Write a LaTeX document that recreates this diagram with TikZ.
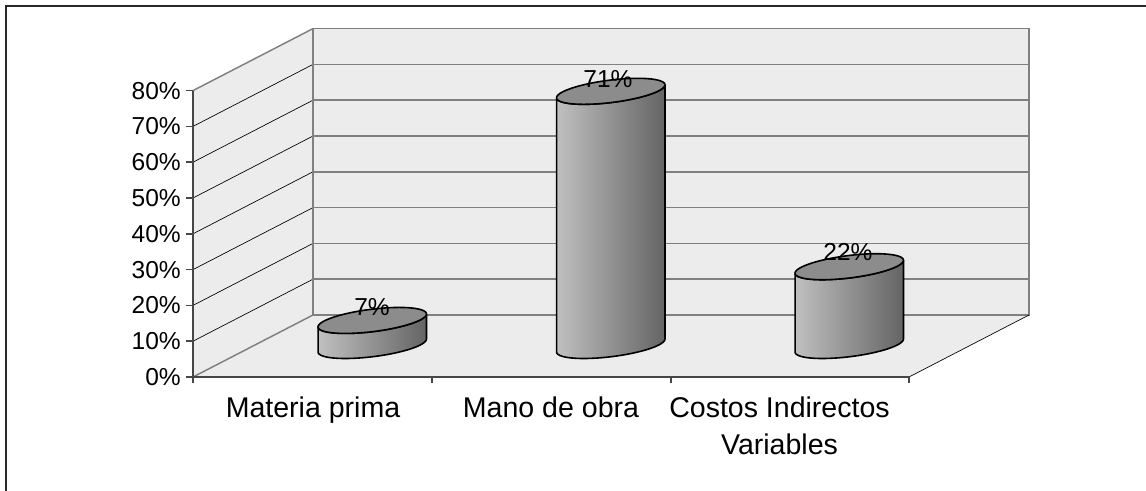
\documentclass[tikz,border=0pt]{standalone}
\usepackage{fontspec}
\setmainfont{Liberation Sans}
\usepackage{xcolor}
\usepackage{tikz}
\definecolor{wallgray}{RGB}{236, 236, 236}
\definecolor{gridgray}{RGB}{128, 128, 128}
\definecolor{canlight}{RGB}{192, 192, 192}
\definecolor{canmid}{RGB}{158, 158, 158}
\definecolor{candark}{RGB}{100, 100, 100}
\definecolor{cantop}{RGB}{140, 140, 140}

\begin{document}
\begin{tikzpicture}[x=0.75pt,y=0.75pt,yscale=-1,xscale=1,
  wall/.style={fill=wallgray, draw=none},
  wall edge/.style={draw=gridgray, line width=1.1pt},
  grid line/.style={draw=gridgray, line width=1.1pt},
  side line/.style={draw=black, line width=0.5pt},
  axis line/.style={draw={rgb, 255:red, 70; green, 70; blue, 70}, line width=1.1pt},
  can side/.style={left color=canlight, middle color=canmid, right color=candark, draw=black, line width=1.2pt, line join=round},
  can top/.style={fill=cantop, draw=black, line width=1.2pt, line join=round},
  tick label/.style={anchor=east, inner sep=0pt, font=\fontsize{18.4}{22}\selectfont},
  val label/.style={inner sep=0pt, font=\fontsize{18.4}{22}\selectfont},
  cat label/.style={anchor=north, inner sep=0pt, align=center, font=\fontsize{21.4}{27.5}\selectfont}]
\useasboundingbox (0,0) rectangle (1146,491);

%Frame
\draw [draw={rgb, 255:red, 40; green, 40; blue, 40}, line width=1.5pt] (1150,6) -- (6,6) -- (6,495) ;

%Shape: Side wall
\path [wall] (193,377) -- (193,90.6) -- (313,28.6) -- (313,315) -- cycle ;
%Shape: Back wall
\path [wall] (313,28.6) rectangle (1029,315) ;
%Shape: Floor
\path [wall] (193,377) -- (909,377) -- (1029,315) -- (313,315) -- cycle ;

%Straight Lines: back wall grid
\draw [grid line] (313,279.2) -- (1029,279.2) ;
\draw [grid line] (313,243.4) -- (1029,243.4) ;
\draw [grid line] (313,207.6) -- (1029,207.6) ;
\draw [grid line] (313,171.8) -- (1029,171.8) ;
\draw [grid line] (313,136) -- (1029,136) ;
\draw [grid line] (313,100.2) -- (1029,100.2) ;
\draw [grid line] (313,64.4) -- (1029,64.4) ;
%Straight Lines: side wall grid
\draw [side line] (193,341.2) -- (313,279.2) ;
\draw [side line] (193,305.4) -- (313,243.4) ;
\draw [side line] (193,269.6) -- (313,207.6) ;
\draw [side line] (193,233.8) -- (313,171.8) ;
\draw [side line] (193,198) -- (313,136) ;
\draw [side line] (193,162.2) -- (313,100.2) ;
\draw [side line] (193,126.4) -- (313,64.4) ;

%Straight Lines: wall edges
\draw [wall edge] (313,28.6) rectangle (1029,315) ;
\draw [wall edge] (193,90.6) -- (313,28.6) ;
\draw [wall edge] (193,377) -- (313,315) ;
\draw [side line] (909,377) -- (1029,315) ;

%Straight Lines: axes and ticks
\draw [axis line] (193,377) -- (193,90.6) ;
\draw [axis line] (193,377) -- (909,377) ;
\draw [axis line] (186,377) -- (193,377) ;
\draw [axis line] (186,341.2) -- (193,341.2) ;
\draw [axis line] (186,305.4) -- (193,305.4) ;
\draw [axis line] (186,269.6) -- (193,269.6) ;
\draw [axis line] (186,233.8) -- (193,233.8) ;
\draw [axis line] (186,198) -- (193,198) ;
\draw [axis line] (186,162.2) -- (193,162.2) ;
\draw [axis line] (186,126.4) -- (193,126.4) ;
\draw [axis line] (186,90.6) -- (193,90.6) ;
\draw [axis line] (193,377) -- (193,383) ;
\draw [axis line] (432,377) -- (432,383) ;
\draw [axis line] (671,377) -- (671,383) ;
\draw [axis line] (909,377) -- (909,383) ;

%Shape: Can (Materia prima)
\draw [can side] (318.05,351.98) -- (318.05,326.92) -- plot[domain=-150.12:29.88,samples=40] ({372.25+47*cos(\x)+27*sin(\x)},{320.44-13*sin(\x)}) -- (426.45,339.02) -- plot[domain=29.88:-150.12,samples=40] ({372.25+47*cos(\x)+27*sin(\x)},{345.5-13*sin(\x)}) -- cycle ;
\draw [can top] plot[domain=0:360,samples=73] ({372.25+47*cos(\x)+27*sin(\x)},{320.44-13*sin(\x)}) -- cycle ;
%Shape: Can (Mano de obra)
\draw [can side] (556.55,351.98) -- (556.55,97.8) -- plot[domain=-150.12:29.88,samples=40] ({610.75+47*cos(\x)+27*sin(\x)},{91.32-13*sin(\x)}) -- (664.95,339.02) -- plot[domain=29.88:-150.12,samples=40] ({610.75+47*cos(\x)+27*sin(\x)},{345.5-13*sin(\x)}) -- cycle ;
\draw [can top] plot[domain=0:360,samples=73] ({610.75+47*cos(\x)+27*sin(\x)},{91.32-13*sin(\x)}) -- cycle ;
%Shape: Can (Costos Indirectos Variables)
\draw [can side] (795.05,351.98) -- (795.05,273.22) -- plot[domain=-150.12:29.88,samples=40] ({849.25+47*cos(\x)+27*sin(\x)},{266.74-13*sin(\x)}) -- (903.45,339.02) -- plot[domain=29.88:-150.12,samples=40] ({849.25+47*cos(\x)+27*sin(\x)},{345.5-13*sin(\x)}) -- cycle ;
\draw [can top] plot[domain=0:360,samples=73] ({849.25+47*cos(\x)+27*sin(\x)},{266.74-13*sin(\x)}) -- cycle ;

% Text Node
\node [tick label] (t0) at (181,377) {0\%};
% Text Node
\node [tick label] (t1) at (181,341.2) {10\%};
% Text Node
\node [tick label] (t2) at (181,305.4) {20\%};
% Text Node
\node [tick label] (t3) at (181,269.6) {30\%};
% Text Node
\node [tick label] (t4) at (181,233.8) {40\%};
% Text Node
\node [tick label] (t5) at (181,198) {50\%};
% Text Node
\node [tick label] (t6) at (181,162.2) {60\%};
% Text Node
\node [tick label] (t7) at (181,126.4) {70\%};
% Text Node
\node [tick label] (t8) at (181,90.6) {80\%};
% Text Node
\node [val label] (valMP) at (372,307.5) {7\%};
% Text Node
\node [val label] (valMO) at (608,79) {71\%};
% Text Node
\node [val label] (valCIV) at (848,252) {22\%};
% Text Node
\node [cat label] (catMP) at (313,397) {Materia prima};
% Text Node
\node [cat label] (catMO) at (551,397) {Mano de obra};
% Text Node
\node [cat label] (catCIV) at (779.5,397) {Costos Indirectos\\Variables};

\end{tikzpicture}
\end{document}
